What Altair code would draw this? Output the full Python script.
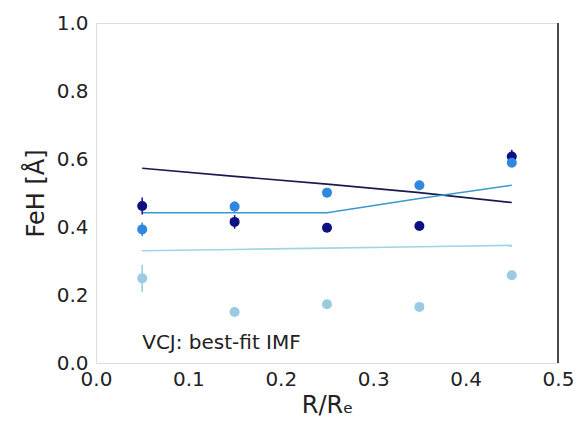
import altair as alt
import pandas as pd

radius = [0.05, 0.15, 0.25, 0.35, 0.45]
series = ["dark", "mid", "light"]
pts_dark = [0.462, 0.415, 0.398, 0.403, 0.607]
pts_mid = [0.393, 0.460, 0.501, 0.523, 0.589]
pts_light = [0.249, 0.150, 0.173, 0.165, 0.258]
err_dark = [0.025, 0.02, 0.012, 0.01, 0.02]
err_mid = [0.02, 0.015, 0.012, 0.01, 0.012]
err_light = [0.04, 0.01, 0.012, 0.01, 0.012]
fit_dark = [0.573, 0.549, 0.526, 0.501, 0.472]
fit_mid = [0.442, 0.442, 0.442, 0.484, 0.523]
fit_light = [0.330, 0.334, 0.338, 0.342, 0.346]

point_colors = ["#0c1080", "#2f88de", "#9acbe2"]
line_colors = ["#1a1a50", "#3a98d0", "#9ed6e8"]

rows = []
for s, p, e, f in zip(series, [pts_dark, pts_mid, pts_light],
                      [err_dark, err_mid, err_light],
                      [fit_dark, fit_mid, fit_light]):
    for r, pv, ev, fv in zip(radius, p, e, f):
        rows.append({"r": r, "series": s, "fitseries": s, "val": pv, "lo": pv - ev,
                     "hi": pv + ev, "fit": fv})
df = pd.DataFrame(rows)

xs = alt.Scale(domain=[0, 0.5], nice=False)
ys = alt.Scale(domain=[0, 1], nice=False)
pcol = alt.Color("series:N", scale=alt.Scale(domain=series, range=point_colors), legend=None)
lcol = alt.Color("fitseries:N", scale=alt.Scale(domain=series, range=line_colors), legend=None)

base = alt.Chart(df)

lines = base.mark_line(strokeWidth=1.6).encode(
    x=alt.X("r:Q", scale=xs, title="R/Rₑ",
            axis=alt.Axis(values=[0, 0.1, 0.2, 0.3, 0.4, 0.5], format=".1f",
                          grid=False, ticks=False, domain=False, labelFlush=False,
                          labelFontSize=20, labelPadding=6, titleFontSize=24,
                          titleFontWeight="normal", titlePadding=4,
                          labelFont="DejaVu Sans", titleFont="DejaVu Sans",
                          labelColor="#222", titleColor="#222")),
    y=alt.Y("fit:Q", scale=ys, title="FeH [Å]",
            axis=alt.Axis(values=[0, 0.2, 0.4, 0.6, 0.8, 1.0], format=".1f",
                          grid=False, ticks=False, domain=False, labelFlush=False,
                          labelFontSize=20, labelPadding=8, titleFontSize=24,
                          titleFontWeight="normal", titlePadding=8,
                          labelFont="DejaVu Sans", titleFont="DejaVu Sans",
                          labelColor="#222", titleColor="#222")),
    stroke=alt.Stroke("fitseries:N", scale=alt.Scale(domain=series, range=line_colors), legend=None),
    detail="fitseries:N",
)

errs = base.mark_rule(strokeWidth=1.5).encode(
    x=alt.X("r:Q", scale=xs), y=alt.Y("lo:Q", scale=ys), y2="hi:Q", color=pcol)

points = base.mark_circle(size=100, opacity=1).encode(
    x=alt.X("r:Q", scale=xs), y=alt.Y("val:Q", scale=ys), color=pcol)

label = alt.Chart(pd.DataFrame({"x": [0.05], "y": [0.03], "t": ["VCJ: best-fit IMF"]})).mark_text(
    align="left", baseline="bottom", fontSize=20, font="DejaVu Sans", color="#222"
).encode(x=alt.X("x:Q", scale=xs), y=alt.Y("y:Q", scale=ys), text="t:N")

right_edge = alt.Chart(pd.DataFrame({"x": [0.5]})).mark_rule(color="#111", strokeWidth=1.5).encode(
    x=alt.X("x:Q", scale=xs))

chart = alt.layer(lines, errs, points, label, right_edge).resolve_scale(
    color="independent", stroke="independent"
).properties(
    width=462, height=340,
    autosize=alt.AutoSizeParams(type="none"),
    padding={"left": 96, "top": 23, "right": 27, "bottom": 70},
).configure_view(stroke="#c0c0c0", strokeWidth=1.2).configure(background="white")

chart.save("out.html", embed_options={"renderer": "svg", "actions": False})
